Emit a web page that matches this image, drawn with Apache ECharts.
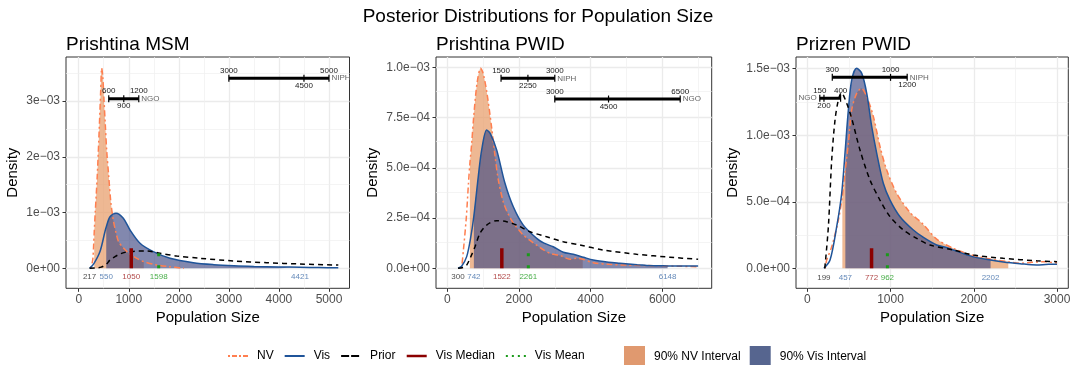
<!DOCTYPE html>
<html>
<head>
<meta charset="utf-8">
<script src="https://cdn.jsdelivr.net/npm/echarts@6/dist/echarts.min.js"></script>
<style>
html, body { margin: 0; background: #fff; }
#chart { width: 1076px; height: 365px; }
</style>
</head>
<body>
<div id="chart"></div>
<script>
var FONT = '"Liberation Sans", Arial, sans-serif';

// densities are in units of 1e-3

// Prishtina MSM
var msmNvX = [240, 280, 300, 310, 330, 370, 410, 440, 459, 480, 505, 530, 560, 600, 640, 690, 750, 800, 900, 1000, 1100, 1200, 1300, 1500, 1800, 2100];
var msmNvY = [0, 0.15, 0.45, 0.65, 1.0, 1.65, 2.5, 3.2, 3.59, 3.45, 3.02, 2.6, 2.1, 1.65, 1.2, 0.87, 0.62, 0.47, 0.36, 0.27, 0.21, 0.16, 0.12, 0.07, 0.03, 0];
var msmVisX = [217, 300, 425, 525, 550, 625, 745, 891, 1025, 1225, 1490, 1824, 2290, 2700, 3100, 3500, 4000, 4421, 4800, 5186];
var msmVisY = [0, 0.08, 0.30, 0.66, 0.74, 0.925, 0.986, 0.897, 0.687, 0.448, 0.298, 0.179, 0.10, 0.065, 0.045, 0.033, 0.024, 0.018, 0.013, 0.008];
var msmPriorX = [217, 350, 450, 550, 625, 725, 825, 925, 1025, 1200, 1358, 1624, 1958, 2427, 3089, 3755, 4420, 5086, 5186];
var msmPriorY = [0, 0.005, 0.02, 0.07, 0.149, 0.21, 0.256, 0.285, 0.298, 0.31, 0.31, 0.27, 0.22, 0.179, 0.131, 0.10, 0.077, 0.059, 0.057];
var msmNvInt = [310, 1300];
var msmVisInt = [550, 4421];
var msmStats = [217, 550, 1050, 1598, 4421];
var msmMarkH = [0.36, 0.27];
var msmRefNames = ['NGO', 'NIPH'];
var msmRefLo = [600, 3000];
var msmRefEst = [900, 4500];
var msmRefHi = [1200, 5000];
var msmRefY = [3.04, 3.41];
var msmXTicks = [0, 1000, 2000, 3000, 4000, 5000];
var msmYTicks = [0, 1, 2, 3];
var msmYLabels = ['0e+00', '1e\u221203', '2e\u221203', '3e\u221203'];

// Prishtina PWID
var pwidNvX = [400, 450, 530, 590, 630, 680, 740, 830, 930, 1000, 1100, 1238, 1331, 1424, 1563, 1700, 1842, 2000, 2121, 2300, 2495, 2700, 2900, 3145, 3424, 3600, 3780, 4074, 4500, 5000, 5500, 6000, 6500, 7000];
var pwidNvY = [0, 0.09, 0.25, 0.42, 0.52, 0.62, 0.76, 0.92, 0.995, 0.97, 0.88, 0.70, 0.56, 0.44, 0.33, 0.27, 0.225, 0.19, 0.165, 0.14, 0.115, 0.09, 0.072, 0.064, 0.045, 0.05, 0.045, 0.028, 0.02, 0.016, 0.014, 0.012, 0.01, 0.008];
var pwidVisX = [300, 400, 541, 650, 742, 865, 960, 1099, 1200, 1378, 1610, 1842, 2121, 2495, 2700, 2958, 3237, 3516, 3800, 4074, 4500, 4818, 5300, 5749, 6148, 6500, 7000];
var pwidVisY = [0, 0.01, 0.058, 0.15, 0.26, 0.456, 0.589, 0.688, 0.67, 0.589, 0.423, 0.306, 0.215, 0.149, 0.125, 0.107, 0.08, 0.07, 0.055, 0.041, 0.03, 0.025, 0.018, 0.013, 0.012, 0.011, 0.011];
var pwidPriorX = [300, 450, 541, 650, 773, 913, 1099, 1378, 1657, 1936, 2308, 2772, 3237, 3703, 4353, 5284, 6214, 7000];
var pwidPriorY = [0, 0.005, 0.016, 0.055, 0.107, 0.174, 0.215, 0.237, 0.232, 0.215, 0.182, 0.157, 0.132, 0.116, 0.091, 0.07, 0.055, 0.045];
var pwidNvInt = [630, 3780];
var pwidVisInt = [742, 6148];
var pwidStats = [300, 742, 1522, 2261, 6148];
var pwidMarkH = [0.1, 0.075];
var pwidRefNames = ['NIPH', 'NGO'];
var pwidRefLo = [1500, 3000];
var pwidRefEst = [2250, 4500];
var pwidRefHi = [3000, 6500];
var pwidRefY = [0.945, 0.842];
var pwidXTicks = [0, 2000, 4000, 6000];
var pwidYTicks = [0, 0.25, 0.5, 0.75, 1.0];
var pwidYLabels = ['0.0e+00', '2.5e\u221204', '5.0e\u221204', '7.5e\u221204', '1.0e\u221203'];

// Prizren PWID
var przNvX = [215, 233, 293, 373, 421, 433, 493, 533, 593, 650, 714, 794, 874, 954, 1074, 1234, 1394, 1554, 1754, 1975, 2200, 2415, 2556, 2700, 2836, 3000];
var przNvY = [0, 0.062, 0.162, 0.363, 0.54, 0.613, 0.94, 1.19, 1.315, 1.353, 1.29, 1.14, 0.914, 0.739, 0.564, 0.42, 0.33, 0.22, 0.15, 0.1, 0.07, 0.05, 0.038, 0.045, 0.05, 0.04];
var przVisX = [199, 273, 353, 413, 457, 493, 533, 593, 654, 714, 774, 834, 913, 994, 1114, 1274, 1400, 1554, 1650, 1754, 1975, 2202, 2355, 2556, 2756, 2900, 3000];
var przVisY = [0, 0.062, 0.313, 0.564, 0.9, 1.19, 1.415, 1.503, 1.465, 1.315, 1.064, 0.864, 0.639, 0.513, 0.388, 0.288, 0.23, 0.175, 0.16, 0.138, 0.09, 0.062, 0.048, 0.035, 0.025, 0.03, 0.03];
var przPriorX = [210, 253, 293, 333, 373, 410, 473, 533, 633, 753, 873, 994, 1154, 1314, 1474, 1754, 1995, 2355, 2756, 3000];
var przPriorY = [0, 0.313, 0.814, 1.115, 1.265, 1.32, 1.24, 1.127, 0.889, 0.664, 0.513, 0.388, 0.288, 0.225, 0.175, 0.138, 0.1, 0.075, 0.057, 0.05];
var przNvInt = [421, 2415];
var przVisInt = [457, 2202];
var przStats = [199, 457, 772, 962, 2202];
var przMarkH = [0.15, 0.113];
var przRefNames = ['NIPH', 'NGO'];
var przRefLo = [300, 150];
var przRefEst = [1200, 200];
var przRefHi = [1000, 400];
var przRefY = [1.435, 1.278];
var przXTicks = [0, 1000, 2000, 3000];
var przYTicks = [0, 0.5, 1.0, 1.5];
var przYLabels = ['0.0e+00', '5.0e\u221204', '1.0e\u221203', '1.5e\u221203'];

var panelTitles = ['Prishtina MSM', 'Prishtina PWID', 'Prizren PWID'];

var C_NV = '#FF7F50', C_VIS = '#1F5499', C_MED = '#8B0000', C_MEAN = '#1A9A1A';
var statColors = ['#1a1a1a', '#3D6BA8', '#9B1414', '#1A9A1A', '#3D6BA8'];

var panels = [
  { nv: [msmNvX, msmNvY], vis: [msmVisX, msmVisY], prior: [msmPriorX, msmPriorY], nvInt: msmNvInt, visInt: msmVisInt,
    stats: msmStats, markH: msmMarkH, ref: [msmRefNames, msmRefLo, msmRefEst, msmRefHi, msmRefY], nameSide: ['right', 'right'],
    xTicks: msmXTicks, yTicks: msmYTicks, yLabels: msmYLabels,
    left: 66, width: 283.5, xMin: -254, xMax: 5410, yMin: -0.359, yMax: 3.789, minorX: 500, minorY: 0.5, nameGap: 46 },
  { nv: [pwidNvX, pwidNvY], vis: [pwidVisX, pwidVisY], prior: [pwidPriorX, pwidPriorY], nvInt: pwidNvInt, visInt: pwidVisInt,
    stats: pwidStats, markH: pwidMarkH, ref: [pwidRefNames, pwidRefLo, pwidRefEst, pwidRefHi, pwidRefY], nameSide: ['right', 'right'],
    xTicks: pwidXTicks, yTicks: pwidYTicks, yLabels: pwidYLabels,
    left: 436, width: 275.7, xMin: -315, xMax: 7379, yMin: -0.0995, yMax: 1.051, minorX: 1000, minorY: 0.125, nameGap: 56 },
  { nv: [przNvX, przNvY], vis: [przVisX, przVisY], prior: [przPriorX, przPriorY], nvInt: przNvInt, visInt: przVisInt,
    stats: przStats, markH: przMarkH, ref: [przRefNames, przRefLo, przRefEst, przRefHi, przRefY], nameSide: ['right', 'left'],
    xTicks: przXTicks, yTicks: przYTicks, yLabels: przYLabels,
    left: 796, width: 272.3, xMin: -136, xMax: 3136, yMin: -0.150, yMax: 1.588, minorX: 500, minorY: 0.25, nameGap: 56 }
];

function pairs(xy) {
  return xy[0].map(function (x, i) { return [x, xy[1][i]]; });
}
function within(pts, r) {
  return pts.filter(function (p) { return p[0] >= r[0] && p[0] <= r[1]; });
}
// odd multiples of step inside (lo, hi): the minor grid positions
function minorValues(step, lo, hi) {
  var out = [];
  for (var n = Math.ceil(lo / step); n * step < hi; n++) {
    if (Math.abs(n % 2) === 1) out.push(n * step);
  }
  return out;
}

var SM = 0.3;
var grids = [], xAxes = [], yAxes = [], series = [], titles = [];

titles.push({ text: 'Posterior Distributions for Population Size', left: 'center', top: 7, padding: 0,
  textStyle: { fontFamily: FONT, fontSize: 19, fontWeight: 'normal', color: '#000' } });

panels.forEach(function (p, i) {
  grids.push({ left: p.left, top: 57, width: p.width, height: 231.3, show: true,
    borderColor: '#333', borderWidth: 1, backgroundColor: '#fff', containLabel: false });
  titles.push({ text: panelTitles[i], left: p.left, top: 35, padding: 0,
    textStyle: { fontFamily: FONT, fontSize: 19, fontWeight: 'normal', color: '#000' } });

  xAxes.push({ type: 'value', gridIndex: i, min: p.xMin, max: p.xMax,
    name: 'Population Size', nameLocation: 'middle', nameGap: 22,
    nameTextStyle: { fontFamily: FONT, fontSize: 15, color: '#000' },
    axisLine: { show: false, onZero: false },
    axisTick: { show: true, length: 3.5, lineStyle: { color: '#333' }, customValues: p.xTicks },
    axisLabel: { customValues: p.xTicks, margin: 5, fontFamily: FONT, fontSize: 12, color: '#4D4D4D',
      formatter: function (v) { return String(v); } },
    splitLine: { show: true, lineStyle: { color: '#EBEBEB', width: 1.3 } } });

  yAxes.push({ type: 'value', gridIndex: i, min: p.yMin, max: p.yMax,
    name: 'Density', nameLocation: 'middle', nameGap: p.nameGap, nameRotate: 90,
    nameTextStyle: { fontFamily: FONT, fontSize: 15, color: '#000' },
    axisLine: { show: false, onZero: false },
    axisTick: { show: true, length: 3.5, lineStyle: { color: '#333' }, customValues: p.yTicks },
    axisLabel: { customValues: p.yTicks, margin: 6, fontFamily: FONT, fontSize: 12, color: '#4D4D4D',
      formatter: function (v) {
        var k = p.yTicks.findIndex(function (t) { return Math.abs(t - v) < 1e-9; });
        return k >= 0 ? p.yLabels[k] : '';
      } },
    splitLine: { show: true, lineStyle: { color: '#EBEBEB', width: 1.3 } } });

  var nv = pairs(p.nv), vis = pairs(p.vis), prior = pairs(p.prior);

  // minor grid lines
  var minor = minorValues(p.minorX, p.xMin, p.xMax).map(function (v) { return { xAxis: v }; })
    .concat(minorValues(p.minorY, p.yMin, p.yMax).map(function (v) { return { yAxis: v }; }));
  series.push({ type: 'line', xAxisIndex: i, yAxisIndex: i, data: [], silent: true,
    markLine: { silent: true, symbol: 'none', z: 1, label: { show: false }, animation: false,
      lineStyle: { color: '#EFEFEF', width: 0.7, type: 'solid' }, data: minor } });

  series.push({ type: 'line', name: '90% NV Interval', xAxisIndex: i, yAxisIndex: i, data: within(nv, p.nvInt),
    smooth: SM, symbol: 'none', silent: true, lineStyle: { width: 0 }, itemStyle: { color: '#E0996F' },
    areaStyle: { color: 'rgba(230,150,96,0.68)', opacity: 1 }, z: 2 });
  series.push({ type: 'line', name: '90% Vis Interval', xAxisIndex: i, yAxisIndex: i, data: within(vis, p.visInt),
    smooth: SM, symbol: 'none', silent: true, lineStyle: { width: 0 }, itemStyle: { color: '#56658F' },
    areaStyle: { color: 'rgba(66,74,132,0.66)', opacity: 1 }, z: 2 });

  series.push({ type: 'line', name: 'NV', xAxisIndex: i, yAxisIndex: i, data: nv, smooth: SM, symbol: 'none', silent: true,
    itemStyle: { color: C_NV }, lineStyle: { color: C_NV, width: 1.5, type: [2, 3, 6, 3] }, z: 3 });
  series.push({ type: 'line', name: 'Vis', xAxisIndex: i, yAxisIndex: i, data: vis, smooth: SM, symbol: 'none', silent: true,
    itemStyle: { color: C_VIS }, lineStyle: { color: C_VIS, width: 1.5 }, z: 3 });
  series.push({ type: 'line', name: 'Prior', xAxisIndex: i, yAxisIndex: i, data: prior, smooth: SM, symbol: 'none', silent: true,
    itemStyle: { color: '#000' }, lineStyle: { color: '#000', width: 1.5, type: [5, 4] }, z: 3 });

  series.push({ type: 'line', name: 'Vis Median', xAxisIndex: i, yAxisIndex: i,
    data: [[p.stats[2], 0], [p.stats[2], p.markH[0]]], symbol: 'none', silent: true,
    itemStyle: { color: C_MED }, lineStyle: { color: C_MED, width: 3.5, cap: 'butt' }, z: 4 });
  series.push({ type: 'line', name: 'Vis Mean', xAxisIndex: i, yAxisIndex: i,
    data: [[p.stats[3], 0], [p.stats[3], p.markH[1]]], symbol: 'none', silent: true,
    itemStyle: { color: C_MEAN }, lineStyle: { color: C_MEAN, width: 3, type: [3, 9], cap: 'butt' }, z: 4 });

  series.push({ type: 'scatter', xAxisIndex: i, yAxisIndex: i, symbolSize: 0, silent: true, z: 5,
    data: p.stats.map(function (v, k) {
      return { value: [v, 0], label: { color: statColors[k] } };
    }),
    label: { show: true, position: 'bottom', distance: 5, fontFamily: FONT, fontSize: 8,
      formatter: function (d) { return String(d.value[0]); } } });

  var ref = p.ref;
  series.push({ type: 'custom', xAxisIndex: i, yAxisIndex: i, silent: true, z: 6, clip: false,
    data: ref[1].map(function (lo, k) { return [lo, ref[2][k], ref[3][k], ref[4][k]]; }),
    renderItem: function (params, api) {
      var k = params.dataIndex;
      var lo = api.value(0), est = api.value(1), hi = api.value(2), y = api.value(3);
      var a = Math.min(lo, est, hi), b = Math.max(lo, est, hi);
      var pa = api.coord([a, y]), pb = api.coord([b, y]);
      var pLo = api.coord([lo, y]), pEst = api.coord([est, y]), pHi = api.coord([hi, y]);
      var kids = [{ type: 'line', shape: { x1: pa[0], y1: pa[1], x2: pb[0], y2: pb[1] },
        style: { stroke: '#000', lineWidth: 3 } }];
      [pLo, pEst, pHi].forEach(function (q) {
        kids.push({ type: 'line', shape: { x1: q[0], y1: q[1] - 3.5, x2: q[0], y2: q[1] + 3.5 },
          style: { stroke: '#000', lineWidth: 1.2 } });
      });
      function txt(q, s, dy) {
        return { type: 'text', x: q[0], y: q[1] + dy,
          style: { text: s, fill: '#1a1a1a', fontSize: 8, fontFamily: FONT, align: 'center', verticalAlign: 'middle' } };
      }
      kids.push(txt(pLo, String(lo), -7.5));
      kids.push(txt(pHi, String(hi), -7.5));
      kids.push(txt(pEst, String(est), 7.5));
      var side = p.nameSide[k];
      kids.push({ type: 'text', x: side === 'right' ? pb[0] + 2.5 : pa[0] - 3, y: pa[1],
        style: { text: ref[0][k], fill: '#666', fontSize: 8, fontFamily: FONT,
          align: side === 'right' ? 'left' : 'right', verticalAlign: 'middle' } });
      return { type: 'group', children: kids };
    } });
});

var chart = echarts.init(document.getElementById('chart'), null, { renderer: 'canvas' });
chart.setOption({
  animation: false,
  backgroundColor: '#fff',
  title: titles,
  grid: grids,
  xAxis: xAxes,
  yAxis: yAxes,
  legend: [
    { left: 222, top: 345, itemWidth: 20, itemHeight: 14, itemGap: 10, selectedMode: false,
      textStyle: { fontFamily: FONT, fontSize: 12, color: '#000', padding: [0, 0, 0, 4] },
      data: [
        { name: 'NV', itemStyle: { opacity: 0 }, lineStyle: { color: C_NV, width: 2, type: [2, 2, 5, 2] } },
        { name: 'Vis', itemStyle: { opacity: 0 }, lineStyle: { color: C_VIS, width: 2 } },
        { name: 'Prior', itemStyle: { opacity: 0 }, lineStyle: { color: '#000', width: 2, type: [8, 2] } },
        { name: 'Vis Median', itemStyle: { opacity: 0 }, lineStyle: { color: C_MED, width: 2.5 } },
        { name: 'Vis Mean', itemStyle: { opacity: 0 }, lineStyle: { color: C_MEAN, width: 2, type: [2, 4] } }
      ] },
    { left: 619, top: 341, itemWidth: 21, itemHeight: 21, itemGap: 9, selectedMode: false,
      textStyle: { fontFamily: FONT, fontSize: 12, color: '#000', padding: [0, 0, 0, 4] },
      data: [
        { name: '90% NV Interval', icon: 'rect', itemStyle: { color: '#E0996F', opacity: 1 } },
        { name: '90% Vis Interval', icon: 'rect', itemStyle: { color: '#56658F', opacity: 1 } }
      ] }
  ],
  series: series
});
</script>
</body>
</html>
